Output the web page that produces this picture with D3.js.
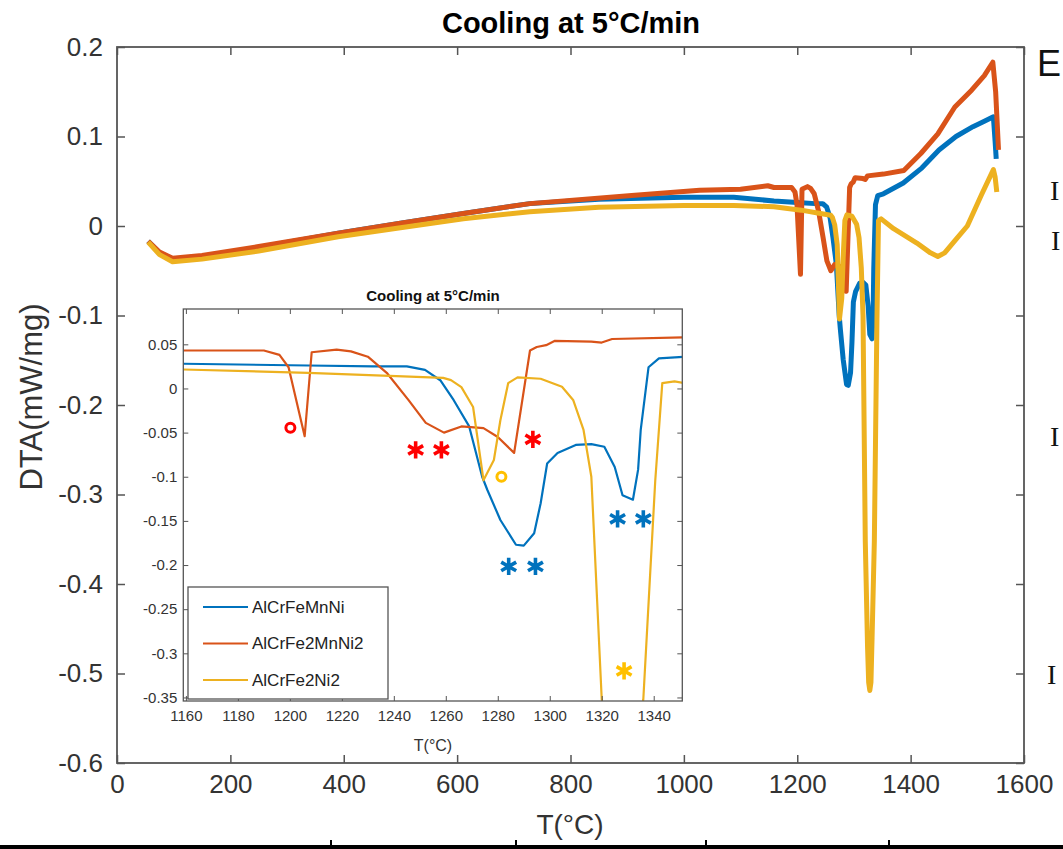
<!DOCTYPE html>
<html>
<head>
<meta charset="utf-8">
<script src="https://cdn.jsdelivr.net/npm/d3@7"></script>
<style>
  body { margin: 0; background: #fff; }
  svg { display: block; font-family: "Liberation Sans", Arial, sans-serif; }
</style>
</head>
<body>
<svg id="chart" width="1063" height="849"></svg>
<script>
// values
var seriesNames = ["AlCrFeMnNi", "AlCrFe2MnNi2", "AlCrFe2Ni2"];

var tempBlue = [55, 75, 98, 150, 250, 390, 500, 611, 728, 850, 1000, 1088, 1159, 1207, 1232, 1245, 1252, 1258, 1263, 1269, 1274, 1276, 1281, 1287, 1290, 1294, 1296.5, 1299, 1303, 1310, 1316, 1321, 1325, 1328, 1332, 1334, 1335, 1338, 1342, 1352, 1387, 1420, 1450, 1480, 1510, 1530, 1546, 1549, 1551];
var dtaBlue = [-0.017, -0.030, -0.037, -0.034, -0.024, -0.008, 0.003, 0.014, 0.025, 0.030, 0.032, 0.032, 0.028, 0.026, 0.025, 0.025, 0.021, 0.009, -0.013, -0.043, -0.100, -0.115, -0.149, -0.177, -0.178, -0.164, -0.130, -0.085, -0.073, -0.064, -0.063, -0.066, -0.089, -0.121, -0.126, -0.092, -0.047, 0.024, 0.034, 0.036, 0.048, 0.065, 0.085, 0.100, 0.111, 0.117, 0.122, 0.095, 0.075];

var tempOrange = [55, 75, 98, 150, 250, 390, 500, 611, 728, 908, 1028, 1100, 1148, 1159, 1190, 1196, 1199.5, 1205.7, 1208.4, 1218, 1223.5, 1230, 1237.5, 1245.6, 1252.3, 1259.3, 1266, 1274.5, 1280, 1286.3, 1292.4, 1295, 1298.6, 1302, 1316, 1320, 1324, 1352, 1388, 1418, 1448, 1478, 1508, 1530, 1545, 1550, 1555];
var dtaOrange = [-0.017, -0.029, -0.036, -0.033, -0.023, -0.008, 0.003, 0.014, 0.025, 0.034, 0.040, 0.041, 0.045, 0.043, 0.043, 0.038, 0.024, -0.054, 0.041, 0.044, 0.042, 0.036, 0.017, -0.013, -0.039, -0.050, -0.043, -0.045, -0.055, -0.073, 0.043, 0.047, 0.049, 0.054, 0.053, 0.052, 0.056, 0.058, 0.062, 0.081, 0.103, 0.133, 0.152, 0.168, 0.183, 0.150, 0.085];

var tempYellow = [55, 75, 98, 150, 250, 390, 500, 611, 728, 850, 1000, 1088, 1159, 1207, 1241, 1259, 1262, 1266, 1270.5, 1274.5, 1278.5, 1281, 1284, 1287.6, 1296.5, 1304.7, 1309, 1313, 1316, 1320, 1324, 1326, 1328, 1330, 1332, 1336, 1340.6, 1343.3, 1348, 1370, 1411, 1435, 1448, 1460, 1480, 1500, 1525, 1546, 1549, 1552];
var dtaYellow = [-0.018, -0.032, -0.040, -0.037, -0.028, -0.012, -0.002, 0.008, 0.016, 0.021, 0.023, 0.023, 0.0215, 0.0177, 0.014, 0.012, 0.0094, 0.0015, -0.021, -0.104, -0.081, -0.036, 0.006, 0.0125, 0.011, 0.002, -0.013, -0.047, -0.100, -0.352, -0.470, -0.510, -0.519, -0.510, -0.460, -0.352, -0.104, 0.006, 0.008, -0.003, -0.019, -0.030, -0.034, -0.030, -0.015, 0.000, 0.035, 0.063, 0.055, 0.038];

var mainXTicks = [0, 200, 400, 600, 800, 1000, 1200, 1400, 1600];
var mainYTicks = [0.2, 0.1, 0, -0.1, -0.2, -0.3, -0.4, -0.5, -0.6];
var insetXTicks = [1160, 1180, 1200, 1220, 1240, 1260, 1280, 1300, 1320, 1340];
var insetYTicks = [0.05, 0, -0.05, -0.1, -0.15, -0.2, -0.25, -0.3, -0.35];

// peak marks drawn inside the inset (T, DTA, shape, series)
var markT = [1200.2, 1248.4, 1258.3, 1293.5, 1281.4, 1284.2, 1294.5, 1326.1, 1336, 1328.6];
var markV = [-0.0445, -0.0697, -0.0697, -0.0576, -0.0999, -0.2016, -0.2016, -0.1477, -0.1477, -0.320];
var markShape = ["o", "*", "*", "*", "o", "*", "*", "*", "*", "*"];
var markSeries = [1, 1, 1, 1, 2, 0, 0, 0, 0, 2];

var lineColors = ["#0072BD", "#D95319", "#EDB120"];
var markColors = ["#0072BD", "#FF0000", "#FFC000"];
var axisColor = "#555";
var textColor = "#333";

var series = [
  tempBlue.map(function (t, i) { return [t, dtaBlue[i]]; }),
  tempOrange.map(function (t, i) { return [t, dtaOrange[i]]; }),
  tempYellow.map(function (t, i) { return [t, dtaYellow[i]]; })
];

// plain labels, hyphen minus, no thousands comma
var fmt = function (d) { return String(+d.toFixed(2)); };

var svg = d3.select("#chart");

// ---- main plot ----
var x = d3.scaleLinear().domain([0, 1600]).range([117, 1024]);
var y = d3.scaleLinear().domain([-0.6, 0.2]).range([763, 47]);

var line = d3.line()
  .x(function (d) { return x(d[0]); })
  .y(function (d) { return y(d[1]); });

svg.append("g").selectAll("path")
  .data(series)
  .join("path")
  .attr("fill", "none")
  .attr("stroke", function (d, i) { return lineColors[i]; })
  .attr("stroke-width", 5)
  .attr("stroke-linejoin", "round")
  .attr("d", line);

svg.append("g")
  .attr("transform", "translate(0,763)")
  .call(d3.axisBottom(x).tickValues(mainXTicks).tickSizeInner(-8).tickSizeOuter(0).tickPadding(12).tickFormat(fmt))
  .call(function (g) { g.select(".domain").remove(); })
  .call(function (g) {
    g.selectAll("line").attr("stroke", axisColor).attr("stroke-width", 1.5);
    g.selectAll("text").attr("font-size", "26px").attr("fill", textColor).attr("font-family", null);
  });
svg.append("g")
  .attr("transform", "translate(0,47)")
  .call(d3.axisTop(x).tickValues(mainXTicks).tickSizeInner(-8).tickSizeOuter(0).tickFormat(""))
  .call(function (g) { g.select(".domain").remove(); g.selectAll("line").attr("stroke", axisColor).attr("stroke-width", 1.5); });
svg.append("g")
  .attr("transform", "translate(117,0)")
  .call(d3.axisLeft(y).tickValues(mainYTicks).tickSizeInner(-8).tickSizeOuter(0).tickPadding(14).tickFormat(fmt))
  .call(function (g) { g.select(".domain").remove(); })
  .call(function (g) {
    g.selectAll("line").attr("stroke", axisColor).attr("stroke-width", 1.5);
    g.selectAll("text").attr("font-size", "26px").attr("fill", textColor).attr("font-family", null);
  });
svg.append("g")
  .attr("transform", "translate(1024,0)")
  .call(d3.axisRight(y).tickValues(mainYTicks).tickSizeInner(-8).tickSizeOuter(0).tickFormat(""))
  .call(function (g) { g.select(".domain").remove(); g.selectAll("line").attr("stroke", axisColor).attr("stroke-width", 1.5); });

svg.append("rect")
  .attr("x", 117).attr("y", 47).attr("width", 907).attr("height", 716)
  .attr("fill", "none").attr("stroke", axisColor).attr("stroke-width", 1.8);

svg.append("text")
  .attr("x", 571).attr("y", 33).attr("text-anchor", "middle")
  .attr("font-size", "29px").attr("font-weight", "bold").attr("fill", "#000")
  .text("Cooling at 5°C/min");
svg.append("text")
  .attr("x", 570).attr("y", 834).attr("text-anchor", "middle")
  .attr("font-size", "28px").attr("fill", textColor)
  .text("T(°C)");
svg.append("text")
  .attr("transform", "translate(42,397) rotate(-90)").attr("text-anchor", "middle")
  .attr("font-size", "31px").attr("fill", textColor)
  .text("DTA(mW/mg)");

// ---- inset ----
var xi = d3.scaleLinear().domain([1159, 1351]).range([183.3, 682.3]);
var yi = d3.scaleLinear().domain([-0.354, 0.09]).range([701, 309]);

svg.append("rect")
  .attr("x", 183.3).attr("y", 309).attr("width", 499).attr("height", 392)
  .attr("fill", "#fff");

svg.append("clipPath").attr("id", "insetClip")
  .append("rect").attr("x", 183.3).attr("y", 309).attr("width", 499).attr("height", 392);

var lineInset = d3.line()
  .x(function (d) { return xi(d[0]); })
  .y(function (d) { return yi(d[1]); });

svg.append("g").attr("clip-path", "url(#insetClip)")
  .selectAll("path")
  .data(series)
  .join("path")
  .attr("fill", "none")
  .attr("stroke", function (d, i) { return lineColors[i]; })
  .attr("stroke-width", 2.2)
  .attr("stroke-linejoin", "round")
  .attr("d", lineInset);

svg.append("g")
  .attr("transform", "translate(0,701)")
  .call(d3.axisBottom(xi).tickValues(insetXTicks).tickSizeInner(-5).tickSizeOuter(0).tickPadding(9).tickFormat(fmt))
  .call(function (g) { g.select(".domain").remove(); })
  .call(function (g) {
    g.selectAll("line").attr("stroke", axisColor);
    g.selectAll("text").attr("font-size", "15px").attr("fill", textColor).attr("font-family", null);
  });
svg.append("g")
  .attr("transform", "translate(0,309)")
  .call(d3.axisTop(xi).tickValues(insetXTicks).tickSizeInner(-5).tickSizeOuter(0).tickFormat(""))
  .call(function (g) { g.select(".domain").remove(); g.selectAll("line").attr("stroke", axisColor); });
svg.append("g")
  .attr("transform", "translate(183.3,0)")
  .call(d3.axisLeft(yi).tickValues(insetYTicks).tickSizeInner(-5).tickSizeOuter(0).tickPadding(6).tickFormat(fmt))
  .call(function (g) { g.select(".domain").remove(); })
  .call(function (g) {
    g.selectAll("line").attr("stroke", axisColor);
    g.selectAll("text").attr("font-size", "15px").attr("fill", textColor).attr("font-family", null);
  });
svg.append("g")
  .attr("transform", "translate(682.3,0)")
  .call(d3.axisRight(yi).tickValues(insetYTicks).tickSizeInner(-5).tickSizeOuter(0).tickFormat(""))
  .call(function (g) { g.select(".domain").remove(); g.selectAll("line").attr("stroke", axisColor); });

svg.append("rect")
  .attr("x", 183.3).attr("y", 309).attr("width", 499).attr("height", 392)
  .attr("fill", "none").attr("stroke", axisColor).attr("stroke-width", 1.3);

svg.append("text")
  .attr("x", 433).attr("y", 301).attr("text-anchor", "middle")
  .attr("font-size", "15px").attr("font-weight", "bold").attr("fill", "#111")
  .text("Cooling at 5°C/min");
svg.append("text")
  .attr("x", 433).attr("y", 751).attr("text-anchor", "middle")
  .attr("font-size", "16px").attr("fill", textColor)
  .text("T(°C)");

// peak marks
var marks = svg.append("g");
markT.forEach(function (t, i) {
  var col = markColors[markSeries[i]];
  if (markShape[i] === "o") {
    marks.append("circle")
      .attr("cx", xi(t)).attr("cy", yi(markV[i])).attr("r", 4.5)
      .attr("fill", "none").attr("stroke", col).attr("stroke-width", 3);
  } else {
    marks.append("path")
      .attr("transform", "translate(" + xi(t) + "," + yi(markV[i]) + ")")
      .attr("d", d3.symbol(d3.symbolAsterisk, 210)())
      .attr("fill", "none").attr("stroke", col).attr("stroke-width", 3.6);
  }
});

// legend
var legend = svg.append("g");
legend.append("rect")
  .attr("x", 188).attr("y", 587).attr("width", 200).attr("height", 112)
  .attr("fill", "#fff").attr("stroke", axisColor).attr("stroke-width", 1.3);
seriesNames.forEach(function (name, i) {
  var ly = 607 + i * 36.5;
  legend.append("line")
    .attr("x1", 203).attr("x2", 248).attr("y1", ly).attr("y2", ly)
    .attr("stroke", lineColors[i]).attr("stroke-width", 2.2);
  legend.append("text")
    .attr("x", 252).attr("y", ly).attr("dy", "0.35em")
    .attr("font-size", "17px").attr("fill", "#222")
    .text(name);
});

// neighbouring text at the right edge and the table rule below
svg.append("text").attr("x", 1037).attr("y", 76)
  .attr("font-size", "36px").attr("fill", "#111").text("E");
[[1050, 200], [1051, 250], [1050, 446], [1047, 684]].forEach(function (p) {
  svg.append("text").attr("x", p[0]).attr("y", p[1])
    .attr("font-family", "Liberation Serif, serif")
    .attr("font-size", "28px").attr("fill", "#111").text("I");
});
svg.append("rect").attr("x", 0).attr("y", 845).attr("width", 1063).attr("height", 4).attr("fill", "#000");
[330, 515, 705, 888].forEach(function (px) {
  svg.append("rect").attr("x", px).attr("y", 840).attr("width", 2).attr("height", 6).attr("fill", "#000");
});
</script>
</body>
</html>
